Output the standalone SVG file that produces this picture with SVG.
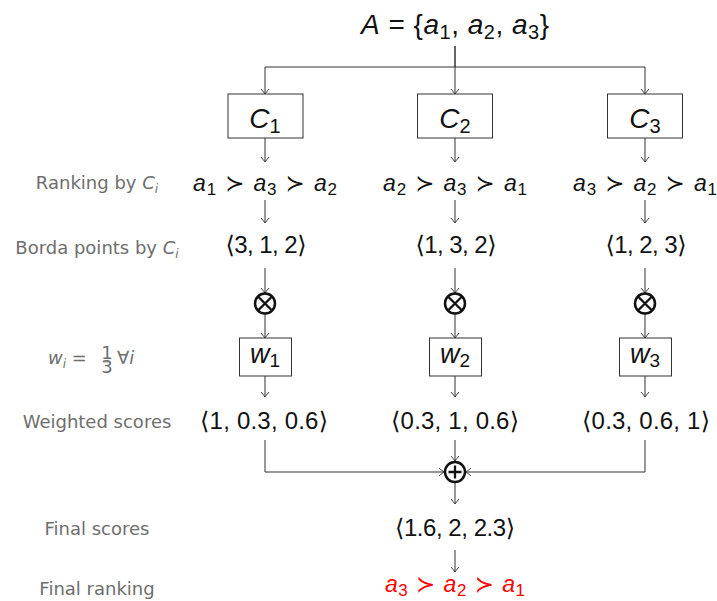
<svg xmlns="http://www.w3.org/2000/svg" width="717" height="601" viewBox="0 0 717 601">
<defs>
<marker id="ah" viewBox="-6 -5 8 10" refX="0" refY="0" markerWidth="8" markerHeight="10" markerUnits="userSpaceOnUse" orient="auto">
<path d="M-5,-4 Q-1.5,-1 0,0 Q-1.5,1 -5,4" fill="none" stroke="#333" stroke-width="0.9"/>
</marker>
<style>
text{font-family:"Liberation Sans","DejaVu Sans",sans-serif;}
.lab{fill:#6e6e6e;font-size:18px;text-anchor:middle;font-family:"DejaVu Sans",sans-serif;}
.labs{fill:#6e6e6e;font-size:18px;text-anchor:start;font-family:"DejaVu Sans",sans-serif;}
.m{fill:#111;text-anchor:middle;}
.it{font-style:italic;}
.sym{font-family:"DejaVu Sans",sans-serif;}
.red{fill:#ff0000;}
.box{fill:#fff;stroke:#333;stroke-width:1;}
.ln{fill:none;stroke:#333;stroke-width:1;}
.arr{fill:none;stroke:#333;stroke-width:1;marker-end:url(#ah);}
.op{fill:#fff;stroke:#111;stroke-width:2.5;}
.opx{fill:none;stroke:#111;stroke-width:2.3;}
</style>
</defs>

<g id="title">
<text class="m" x="455" y="34" font-size="28" textLength="188" lengthAdjust="spacing"><tspan class="it">A</tspan> = {<tspan class="it">a</tspan><tspan font-size="20" dy="5">1</tspan><tspan dy="-5">, </tspan><tspan class="it">a</tspan><tspan font-size="20" dy="5">2</tspan><tspan dy="-5">, </tspan><tspan class="it">a</tspan><tspan font-size="20" dy="5">3</tspan><tspan dy="-5">}</tspan></text>
</g>

<g id="connectors">
<path class="ln" d="M455,46 V67 M265,67 H645"/>
<path class="arr" d="M455,46 V94"/>
<path class="arr" d="M265,67 V94"/>
<path class="arr" d="M645,67 V94"/>
<path class="arr" d="M265,138 V162"/>
<path class="arr" d="M455,138 V162"/>
<path class="arr" d="M645,138 V162"/>
<path class="arr" d="M265,200 V223"/>
<path class="arr" d="M455,200 V223"/>
<path class="arr" d="M645,200 V223"/>
<path class="arr" d="M265,268 V293"/>
<path class="arr" d="M455,268 V293"/>
<path class="arr" d="M645,268 V293"/>
<path class="arr" d="M265,314 V338"/>
<path class="arr" d="M455,314 V338"/>
<path class="arr" d="M645,314 V338"/>
<path class="arr" d="M265,376 V397"/>
<path class="arr" d="M455,376 V397"/>
<path class="arr" d="M645,376 V397"/>
<path class="arr" d="M265,440 V472 H444"/>
<path class="arr" d="M645,440 V472 H466"/>
<path class="arr" d="M455,440 V461"/>
<path class="arr" d="M455,483 V504"/>
<path class="arr" d="M455,550 V572"/>
</g>

<g id="labels">
<text class="lab" x="97" y="189">Ranking by <tspan class="it">C</tspan><tspan font-size="12" dy="4" class="it">i</tspan></text>
<text class="lab" x="97" y="254">Borda points by <tspan class="it">C</tspan><tspan font-size="12" dy="4" class="it">i</tspan></text>
<g id="weight-label">
<text class="labs" x="48" y="364"><tspan class="it">w</tspan><tspan font-size="12" dy="4" class="it">i</tspan><tspan dy="-4"> =</tspan></text>
<text class="lab" x="107" y="359" font-size="10">1</text>
<line x1="103" y1="362" x2="111" y2="362" stroke="#6e6e6e" stroke-width="0.6"/>
<text class="lab" x="107" y="373" font-size="10">3</text>
<text class="labs" x="117" y="364">∀<tspan class="it">i</tspan></text>
</g>
<text class="lab" x="97" y="428">Weighted scores</text>
<text class="lab" x="97" y="535">Final scores</text>
<text class="lab" x="97" y="595">Final ranking</text>
</g>

<g id="C1"><rect class="box" x="228" y="94" width="75" height="44"/><text class="m" x="265" y="128" font-size="28"><tspan class="it">C</tspan><tspan font-size="20" dy="5">1</tspan></text></g>
<g id="C2"><rect class="box" x="417.5" y="94" width="75" height="44"/><text class="m" x="455" y="128" font-size="28"><tspan class="it">C</tspan><tspan font-size="20" dy="5">2</tspan></text></g>
<g id="C3"><rect class="box" x="607.5" y="94" width="75" height="44"/><text class="m" x="645" y="128" font-size="28"><tspan class="it">C</tspan><tspan font-size="20" dy="5">3</tspan></text></g>

<g id="rank1"><text class="m" x="265" y="191" font-size="23" textLength="144" lengthAdjust="spacing"><tspan class="it">a</tspan><tspan font-size="17" dy="4">1</tspan><tspan dy="-4" class="sym"> ≻ </tspan><tspan class="it">a</tspan><tspan font-size="17" dy="4">3</tspan><tspan dy="-4" class="sym"> ≻ </tspan><tspan class="it">a</tspan><tspan font-size="17" dy="4">2</tspan></text></g>
<g id="rank2"><text class="m" x="455" y="191" font-size="23" textLength="144" lengthAdjust="spacing"><tspan class="it">a</tspan><tspan font-size="17" dy="4">2</tspan><tspan dy="-4" class="sym"> ≻ </tspan><tspan class="it">a</tspan><tspan font-size="17" dy="4">3</tspan><tspan dy="-4" class="sym"> ≻ </tspan><tspan class="it">a</tspan><tspan font-size="17" dy="4">1</tspan></text></g>
<g id="rank3"><text class="m" x="645" y="191" font-size="23" textLength="144" lengthAdjust="spacing"><tspan class="it">a</tspan><tspan font-size="17" dy="4">3</tspan><tspan dy="-4" class="sym"> ≻ </tspan><tspan class="it">a</tspan><tspan font-size="17" dy="4">2</tspan><tspan dy="-4" class="sym"> ≻ </tspan><tspan class="it">a</tspan><tspan font-size="17" dy="4">1</tspan></text></g>

<g id="borda1"><text class="m" x="266" y="253" font-size="24" textLength="81" lengthAdjust="spacing"><tspan class="sym">⟨</tspan>3, 1, 2<tspan class="sym">⟩</tspan></text></g>
<g id="borda2"><text class="m" x="456" y="253" font-size="24" textLength="81" lengthAdjust="spacing"><tspan class="sym">⟨</tspan>1, 3, 2<tspan class="sym">⟩</tspan></text></g>
<g id="borda3"><text class="m" x="646" y="253" font-size="24" textLength="81" lengthAdjust="spacing"><tspan class="sym">⟨</tspan>1, 2, 3<tspan class="sym">⟩</tspan></text></g>

<g id="mul1"><circle class="op" cx="265" cy="303.5" r="10"/><path class="opx" d="M258,296.5 L272,310.5 M272,296.5 L258,310.5"/></g>
<g id="mul2"><circle class="op" cx="455" cy="303.5" r="10"/><path class="opx" d="M448,296.5 L462,310.5 M462,296.5 L448,310.5"/></g>
<g id="mul3"><circle class="op" cx="645" cy="303.5" r="10"/><path class="opx" d="M638,296.5 L652,310.5 M652,296.5 L638,310.5"/></g>

<g id="w1"><rect class="box" x="239.5" y="338" width="52" height="38"/><text class="m" x="265" y="363" font-size="27"><tspan class="it">w</tspan><tspan font-size="19" dy="4">1</tspan></text></g>
<g id="w2"><rect class="box" x="429.5" y="338" width="52" height="38"/><text class="m" x="455" y="363" font-size="27"><tspan class="it">w</tspan><tspan font-size="19" dy="4">2</tspan></text></g>
<g id="w3"><rect class="box" x="619.5" y="338" width="52" height="38"/><text class="m" x="645" y="363" font-size="27"><tspan class="it">w</tspan><tspan font-size="19" dy="4">3</tspan></text></g>

<g id="ws1"><text class="m" x="264" y="429" font-size="24" textLength="128" lengthAdjust="spacing"><tspan class="sym">⟨</tspan>1, 0.3, 0.6<tspan class="sym">⟩</tspan></text></g>
<g id="ws2"><text class="m" x="455" y="429" font-size="24" textLength="128" lengthAdjust="spacing"><tspan class="sym">⟨</tspan>0.3, 1, 0.6<tspan class="sym">⟩</tspan></text></g>
<g id="ws3"><text class="m" x="646" y="429" font-size="24" textLength="128" lengthAdjust="spacing"><tspan class="sym">⟨</tspan>0.3, 0.6, 1<tspan class="sym">⟩</tspan></text></g>

<g id="sum"><circle class="op" cx="455" cy="472" r="10"/><path class="opx" d="M455,465.5 V478.5 M448.5,472 H461.5"/></g>

<g id="final-scores"><text class="m" x="455" y="536" font-size="24" textLength="120" lengthAdjust="spacing"><tspan class="sym">⟨</tspan>1.6, 2, 2.3<tspan class="sym">⟩</tspan></text></g>
<g id="final-ranking"><text class="m red" x="455" y="592" font-size="23" textLength="140" lengthAdjust="spacing"><tspan class="it">a</tspan><tspan font-size="17" dy="4">3</tspan><tspan dy="-4" class="sym"> ≻ </tspan><tspan class="it">a</tspan><tspan font-size="17" dy="4">2</tspan><tspan dy="-4" class="sym"> ≻ </tspan><tspan class="it">a</tspan><tspan font-size="17" dy="4">1</tspan></text></g>
</svg>
